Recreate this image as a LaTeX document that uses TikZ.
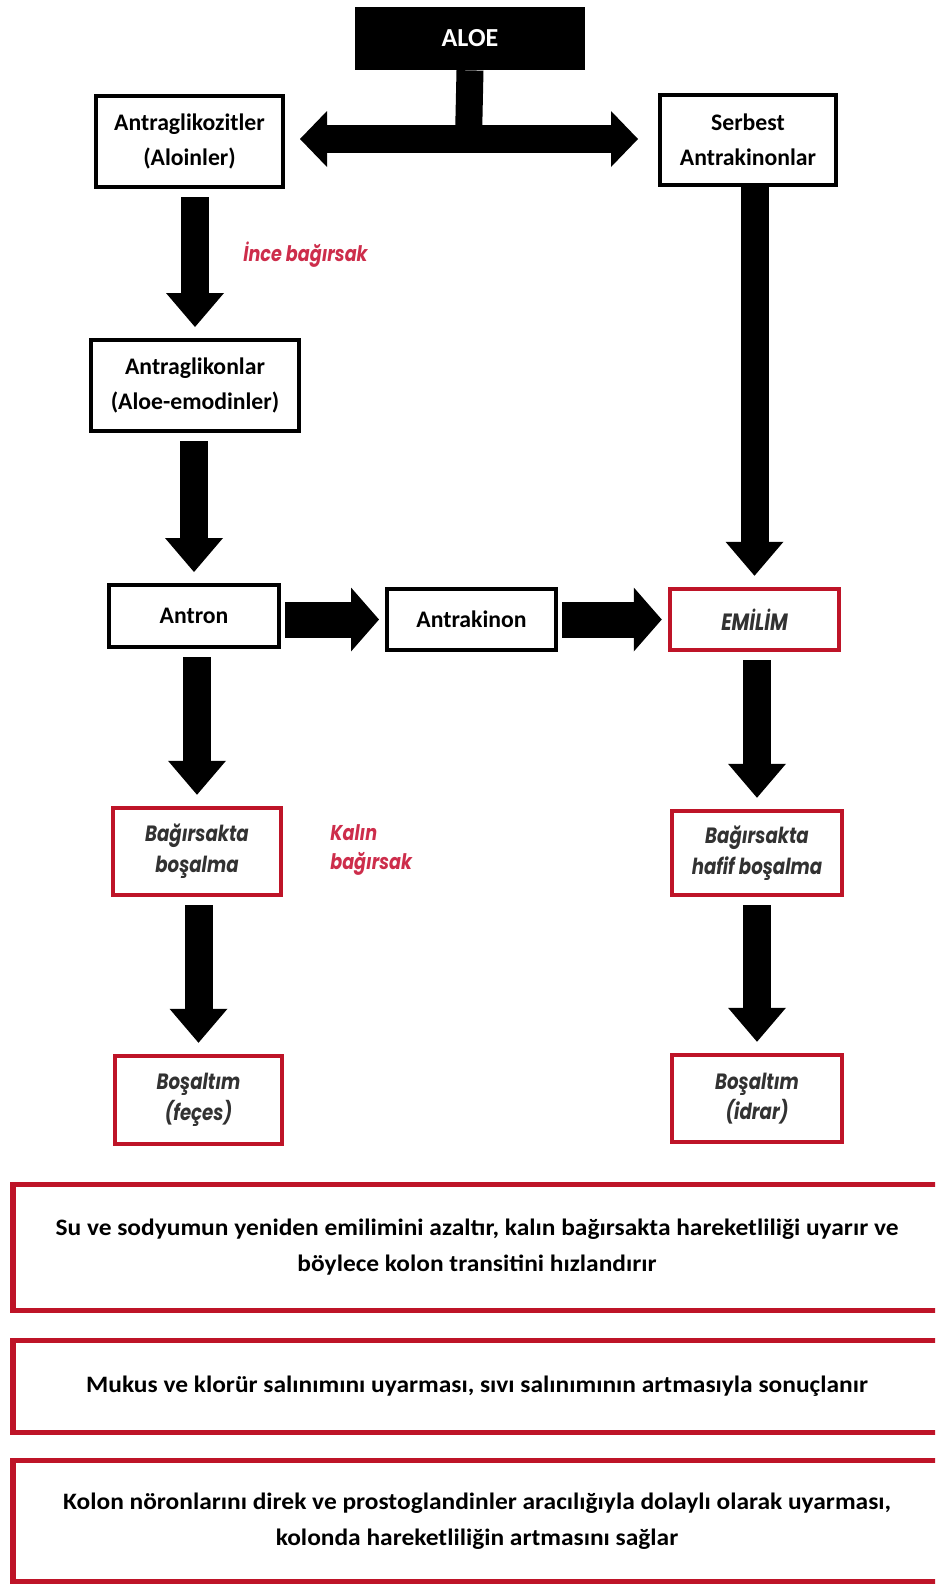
\documentclass[tikz,border=0pt]{standalone}
\usepackage{fontspec}
\setmainfont{Carlito}
\newfontfamily\gothic{Poppins}[FakeStretch=0.82]
\newfontfamily\widefont{Carlito}[FakeStretch=1.08]
\usetikzlibrary{arrows.meta}
\definecolor{boxred}{RGB}{190,20,40}
\definecolor{labelred}{RGB}{205,45,75}
\definecolor{inkgray}{RGB}{50,50,50}

\begin{document}
\begin{tikzpicture}[
  box/.style={draw=black,line width=0.08cm,align=center,inner sep=0,
    font=\fontsize{13.5}{20}\selectfont\bfseries},
  redbox/.style={draw=boxred,line width=0.09cm,align=center,inner sep=0,text=inkgray,
    font=\fontsize{12.6}{17.5}\selectfont\gothic\bfseries\itshape},
  widebox/.style={draw=boxred,line width=0.11cm,align=center,inner sep=0,
    minimum width=18.55cm,font=\fontsize{13.4}{20.5}\selectfont\widefont\bfseries},
  redlabel/.style={text=labelred,align=left,inner sep=0,
    font=\fontsize{12.2}{17}\selectfont\gothic\bfseries\itshape},
  downarrow/.style={line width=0.56cm,
    -{Triangle[width=1.16cm,length=0.68cm,line width=0pt]},
    shorten <=0.16cm,shorten >=0.22cm},
  sidearrow/.style={line width=0.72cm,
    -{Triangle[width=1.28cm,length=0.56cm,line width=0pt]},
    shorten <=0.08cm,shorten >=0.12cm}
]
\useasboundingbox (0,0) rectangle (18.70,-31.72);
\clip (0,0) rectangle (18.70,-31.72);

\node[fill=black,minimum width=4.60cm,minimum height=1.26cm,text=white,
  font=\fontsize{14.8}{17}\selectfont\bfseries] (aloe) at (9.40,-0.77) {ALOE};

\node[box,minimum width=3.74cm,minimum height=1.82cm] (glik) at (3.79,-2.83)
  {Antraglikozitler\\(Aloinler)};
\node[box,minimum width=3.52cm,minimum height=1.80cm] (serbest) at (14.96,-2.80)
  {Serbest\\Antrakinonlar};

\node[box,minimum width=4.16cm,minimum height=1.82cm] (glikon) at (3.90,-7.71)
  {Antraglikonlar\\(Aloe-emodinler)};

\node[box,minimum width=3.40cm,minimum height=1.24cm] (antron) at (3.88,-12.32) {Antron};
\node[box,minimum width=3.38cm,minimum height=1.22cm] (antrakinon) at (9.43,-12.39) {Antrakinon};
\node[redbox,font=\fontsize{13.4}{17}\selectfont\gothic\bfseries\itshape,
  minimum width=3.38cm,minimum height=1.22cm] (emilim) at (15.09,-12.39) {EMİLİM};

\node[redbox,minimum width=3.36cm,minimum height=1.74cm] (bosalma) at (3.94,-17.03)
  {Bağırsakta\\boşalma};
\node[redbox,minimum width=3.40cm,minimum height=1.68cm] (hafif) at (15.14,-17.06)
  {Bağırsakta\\hafif boşalma};

\node[redbox,minimum width=3.34cm,minimum height=1.76cm] (feces) at (3.97,-22.00)
  {Boşaltım\\(feçes)};
\node[redbox,minimum width=3.40cm,minimum height=1.74cm] (idrar) at (15.14,-21.97)
  {Boşaltım\\(idrar)};

\node[redlabel] (ince) at (6.11,-5.10) {İnce bağırsak};
\node[redlabel,anchor=west] (kalin) at (6.60,-17.00) {Kalın\\bağırsak};

\node[widebox,minimum height=2.52cm] (etki1) at (9.54,-24.95)
  {Su ve sodyumun yeniden emilimini azaltır, kalın bağırsakta hareketliliği uyarır ve\\böylece kolon transitini hızlandırır};
\node[widebox,minimum height=1.84cm] (etki2) at (9.54,-27.73)
  {Mukus ve klorür salınımını uyarması, sıvı salınımının artmasıyla sonuçlanır};
\node[widebox,minimum height=2.42cm] (etki3) at (9.54,-30.42)
  {Kolon nöronlarını direk ve prostoglandinler aracılığıyla dolaylı olarak uyarması,\\kolonda hareketliliğin artmasını sağlar};

\coordinate (fork) at (9.37,-2.78);
\draw[line width=0.54cm] (aloe.south) -- (fork);
\draw[line width=0.56cm,
  {Triangle[width=1.12cm,length=0.54cm,line width=0pt]}-{Triangle[width=1.12cm,length=0.54cm,line width=0pt]},
  shorten <=0.30cm,shorten >=0.40cm] (glik.east |- fork) -- (serbest.west |- fork);

\draw[downarrow] (glikon.north |- glik.south) -- (glikon.north);
\draw[downarrow] (antron.north |- glikon.south) -- (antron.north);
\draw[downarrow] (bosalma.north |- antron.south) -- (bosalma.north);
\draw[downarrow] (feces.north |- bosalma.south) -- (feces.north);

\draw[downarrow,shorten <=0cm] (emilim.north |- serbest.south) -- (emilim.north);
\draw[downarrow] (hafif.north |- emilim.south) -- (hafif.north);
\draw[downarrow] (idrar.north |- hafif.south) -- (idrar.north);

\draw[sidearrow] (antron.east |- antrakinon.west) -- (antrakinon.west);
\draw[sidearrow] (antrakinon.east) -- (emilim.west);
\end{tikzpicture}
\end{document}
